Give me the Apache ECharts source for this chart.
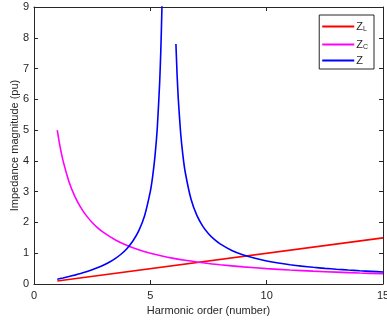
<!DOCTYPE html>
<html><head><meta charset="utf-8">
<script src="https://cdn.jsdelivr.net/npm/echarts@6/dist/echarts.min.js"></script>
<style>html,body{margin:0;padding:0;background:#fff}#c{width:387px;height:323px}</style>
</head><body><div id="c"></div>
<script>
// Harmonic order samples and magnitudes (pu)
const hL = [1, 15];
const zL = [0.1, 1.5];
const hC = [1, 1.1, 1.25, 1.5, 1.75, 2, 2.25, 2.5, 2.75, 3, 3.5, 4, 4.5, 5, 5.5, 6, 6.5, 7, 7.5, 8, 9, 10, 11, 12, 13, 14, 15];
const zC = [5, 4.545, 4, 3.333, 2.857, 2.5, 2.222, 2, 1.818, 1.667, 1.429, 1.25, 1.111, 1, 0.909, 0.833, 0.769, 0.714, 0.667, 0.625, 0.556, 0.5, 0.455, 0.417, 0.385, 0.357, 0.333];
const hZ = [1, 1.25, 1.5, 1.75, 2, 2.25, 2.5, 2.75, 3, 3.25, 3.5, 3.75, 4, 4.25, 4.5, 4.75, 5, 5.1, 5.2, 5.3, 5.4, 5.45, 5.5, 5.55, 5.8,
            6.1, 6.15, 6.2, 6.3, 6.4, 6.5, 6.75, 7, 7.25, 7.5, 7.75, 8, 8.5, 9, 9.5, 10, 10.5, 11, 11.5, 12, 12.5, 13, 13.5, 14, 14.5, 15];
const zZ = [0.155, 0.197, 0.242, 0.289, 0.341, 0.398, 0.462, 0.534, 0.617, 0.715, 0.831, 0.975, 1.156, 1.395, 1.724, 2.212, 3.012, 3.498, 4.153, 5.086, 6.522, 7.575, 9.016, 11.11, null,
            7.80, 6.80, 6.031, 4.930, 4.178, 3.631, 2.752, 2.229, 1.882, 1.634, 1.448, 1.303, 1.091, 0.943, 0.834, 0.750, 0.682, 0.627, 0.581, 0.542, 0.508, 0.479, 0.453, 0.430, 0.410, 0.391];
const xTicks = [0, 5, 10, 15];
const yTicks = [0, 1, 2, 3, 4, 5, 6, 7, 8, 9];
const names = ['Z_L', 'Z_C', 'Z'];

const pair = (xs, ys) => xs.map((x, i) => [x, ys[i]]);
const ax = '#262626';
const font = 'Liberation Sans, Arial, Helvetica, sans-serif';
const chart = echarts.init(document.getElementById('c'));
const baseX = {
  type: 'value', min: xTicks[0], max: xTicks[xTicks.length - 1], interval: 5,
  axisLine: { show: true, onZero: false, lineStyle: { color: ax, width: 1 } },
  axisTick: { show: true, inside: true, length: 4, lineStyle: { color: ax } },
  splitLine: { show: false }
};
const baseY = {
  type: 'value', min: yTicks[0], max: yTicks[yTicks.length - 1], interval: 1,
  axisLine: { show: true, onZero: false, lineStyle: { color: ax, width: 1 } },
  axisTick: { show: true, inside: true, length: 4, lineStyle: { color: ax } },
  splitLine: { show: false }
};
chart.setOption({
  animation: false,
  grid: { left: 34, right: 4, top: 7, bottom: 39, containLabel: false, outerBoundsMode: 'none' },
  xAxis: [
    Object.assign({}, baseX, {
      position: 'bottom',
      name: 'Harmonic order (number)', nameLocation: 'middle', nameGap: 21, nameMoveOverlap: false,
      nameTextStyle: { color: ax, fontSize: 11, fontFamily: font },
      axisLabel: { color: ax, fontSize: 11, fontFamily: font, margin: 6 }
    }),
    Object.assign({}, baseX, { position: 'top', axisLabel: { show: false } })
  ],
  yAxis: [
    Object.assign({}, baseY, {
      position: 'left',
      name: 'Impedance magnitude (pu)', nameLocation: 'middle', nameGap: 14, nameMoveOverlap: false,
      nameTextStyle: { color: ax, fontSize: 11, fontFamily: font },
      axisLabel: { color: ax, fontSize: 11, fontFamily: font, margin: 5 }
    }),
    Object.assign({}, baseY, { position: 'right', axisLabel: { show: false } })
  ],
  legend: {
    right: 13, top: 15, orient: 'vertical',
    icon: 'rect', itemWidth: 32, itemHeight: 2, itemGap: 4,
    padding: [4, 6, 3, 3],
    borderColor: ax, borderWidth: 1, backgroundColor: '#fff',
    data: names,
    formatter: n => n === 'Z_L' ? '{m|Z}{s|L}' : n === 'Z_C' ? '{m|Z}{s|C}' : '{m|Z}',
    textStyle: {
      color: ax, fontFamily: font, padding: [0, 0, 0, -3],
      rich: {
        m: { fontSize: 11, fontFamily: font, color: ax, lineHeight: 13 },
        s: { fontSize: 7, fontFamily: font, color: ax, verticalAlign: 'bottom', padding: [7, 0, 0, 0], lineHeight: 13 }
      }
    }
  },
  series: [
    { name: 'Z_L', type: 'line', data: pair(hL, zL), showSymbol: false, lineStyle: { color: '#ff0000', width: 1.6 }, itemStyle: { color: '#ff0000' } },
    { name: 'Z_C', type: 'line', data: pair(hC, zC), smooth: 0.3, showSymbol: false, lineStyle: { color: '#ff00ff', width: 1.6 }, itemStyle: { color: '#ff00ff' } },
    { name: 'Z', type: 'line', data: pair(hZ, zZ), smooth: 0.2, connectNulls: false, showSymbol: false, lineStyle: { color: '#0000ff', width: 1.6 }, itemStyle: { color: '#0000ff' } }
  ]
});
</script></body></html>
